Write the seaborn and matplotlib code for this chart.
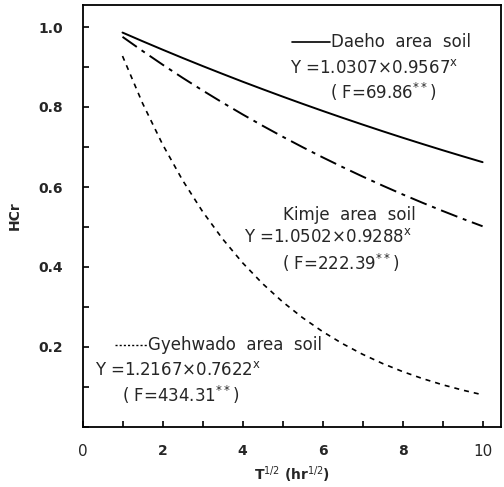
import matplotlib
matplotlib.use("Agg")
import matplotlib.pyplot as plt
import seaborn as sns
import pandas as pd
from matplotlib.ticker import MultipleLocator

# ---- data ----
t_half = [1.0, 1.5, 2.0, 2.5, 3.0, 3.5, 4.0, 4.5, 5.0, 5.5,
          6.0, 6.5, 7.0, 7.5, 8.0, 8.5, 9.0, 9.5, 10.0]
daeho = [0.9861, 0.9645, 0.9434, 0.9227, 0.9025, 0.8828, 0.8634, 0.8446, 0.8261, 0.8080,
         0.7903, 0.7730, 0.7561, 0.7395, 0.7233, 0.7075, 0.6920, 0.6769, 0.6621]
kimje = [0.9754, 0.9401, 0.9060, 0.8731, 0.8415, 0.8110, 0.7816, 0.7532, 0.7259, 0.6996,
         0.6742, 0.6498, 0.6262, 0.6035, 0.5816, 0.5605, 0.5402, 0.5206, 0.5018]
gyehwado = [0.9274, 0.8096, 0.7068, 0.6171, 0.5388, 0.4704, 0.4106, 0.3585, 0.3130, 0.2733,
            0.2386, 0.2083, 0.1818, 0.1587, 0.1386, 0.1210, 0.1056, 0.0922, 0.0805]

x_ticks = [0, 2, 4, 6, 8, 10]
x_ticklabels = ["0", "2", "4", "6", "8", "10"]
y_ticks = [0.2, 0.4, 0.6, 0.8, 1.0]
y_ticklabels = ["0.2", "0.4", "0.6", "0.8", "1.0"]

sns.set_style("white")
plt.rcParams["font.family"] = ["DejaVu Sans"]

fig = plt.figure(figsize=(5.04, 4.87), dpi=100)
ax = fig.add_axes([82.5 / 504, 60 / 487, (501 - 82.5) / 504, (427 - 5) / 487])

df = pd.DataFrame({"x": t_half, "daeho": daeho, "kimje": kimje, "gyehwado": gyehwado})
sns.lineplot(data=df, x="x", y="daeho", ax=ax, color="black", lw=1.4)
l2 = sns.lineplot(data=df, x="x", y="kimje", ax=ax, color="black", lw=1.4)
l2.lines[-1].set_dashes([9, 3, 2, 3])
l3 = sns.lineplot(data=df, x="x", y="gyehwado", ax=ax, color="black", lw=1.2)
l3.lines[-1].set_dashes([3, 3])

ax.set_xlim(0, 10.46)
ax.set_ylim(0, 1.055)
ax.set_xticks(x_ticks)
ax.set_xticklabels(x_ticklabels, fontweight="bold", fontsize=10)
for lab in ax.get_xticklabels():
    if lab.get_text() in ("0", "10"):
        lab.set_fontweight("normal")
        lab.set_fontsize(11)
ax.set_yticks(y_ticks)
ax.set_yticklabels(y_ticklabels, fontweight="bold", fontsize=10)
ax.xaxis.set_minor_locator(MultipleLocator(1))
ax.yaxis.set_minor_locator(MultipleLocator(0.1))
ax.tick_params(which="both", direction="in", length=4, width=1.2, color="black",
               bottom=True, left=True)
ax.tick_params(axis="y", pad=14)
ax.tick_params(axis="x", pad=12)
for s in ax.spines.values():
    s.set_color("black")
    s.set_linewidth(1.3)

ax.set_xlabel("T$^{1/2}$ (hr$^{1/2}$)", fontweight="bold", fontsize=10, labelpad=4)
ax.set_ylabel("HCr", fontweight="bold", fontsize=10, labelpad=12)

fs = 12
sup = "$^{\\mathrm{x}}$"
# Daeho annotation
ax.plot([5.24, 6.19], [0.9625, 0.9625], color="black", lw=1.2)
ax.text(6.21, 0.9625, "Daeho  area  soil", fontsize=fs, va="center", ha="left")
ax.text(5.19, 0.8975, "Y =1.0307×0.9567" + sup, fontsize=fs, va="center", ha="left")
ax.text(6.19, 0.8375, "( F=69.86$^{**}$)", fontsize=fs, va="center", ha="left")

# Kimje annotation
ax.text(5.01, 0.53, "Kimje  area  soil", fontsize=fs, va="center", ha="left")
ax.text(4.04, 0.475, "Y =1.0502×0.9288" + sup, fontsize=fs, va="center", ha="left")
ax.text(4.99, 0.41, "( F=222.39$^{**}$)", fontsize=fs, va="center", ha="left")

# Gyehwado annotation
gl = ax.plot([0.81, 1.61], [0.205, 0.205], color="black", lw=1.0)[0]
gl.set_dashes([1.5, 1.5])
ax.text(1.64, 0.205, "Gyehwado  area  soil", fontsize=fs, va="center", ha="left")
ax.text(0.31, 0.1425, "Y =1.2167×0.7622" + sup, fontsize=fs, va="center", ha="left")
ax.text(0.99, 0.08, "( F=434.31$^{**}$)", fontsize=fs, va="center", ha="left")

fig.savefig("out.png", dpi=100)
